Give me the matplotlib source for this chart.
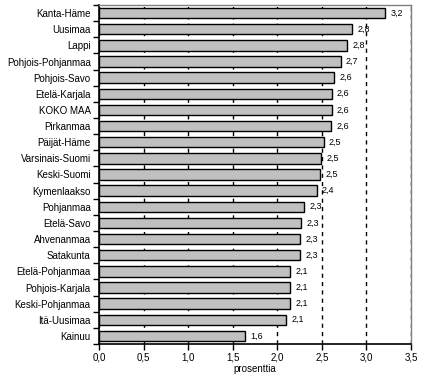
import matplotlib
matplotlib.use("Agg")
import matplotlib.pyplot as plt
import numpy as np

regions = ["Kanta-Häme", "Uusimaa", "Lappi", "Pohjois-Pohjanmaa", "Pohjois-Savo",
           "Etelä-Karjala", "KOKO MAA", "Pirkanmaa", "Päijät-Häme", "Varsinais-Suomi",
           "Keski-Suomi", "Kymenlaakso", "Pohjanmaa", "Etelä-Savo", "Ahvenanmaa",
           "Satakunta", "Etelä-Pohjanmaa", "Pohjois-Karjala", "Keski-Pohjanmaa",
           "Itä-Uusimaa", "Kainuu"]
values = [3.21, 2.84, 2.78, 2.71, 2.64, 2.61, 2.61, 2.60, 2.52, 2.49, 2.48,
          2.44, 2.30, 2.27, 2.26, 2.26, 2.14, 2.14, 2.14, 2.10, 1.64]
xticks = [0.0, 0.5, 1.0, 1.5, 2.0, 2.5, 3.0, 3.5]

plt.rcParams['font.family'] = ['Liberation Sans', 'DejaVu Sans']
plt.rcParams['font.size'] = 7

fig = plt.figure(figsize=(4.24, 3.84), dpi=100)
ax = fig.add_axes([99 / 424, 1 - 344 / 384, 312 / 424, 339 / 384])

y = np.arange(len(regions))
ax.barh(y, values, height=0.65, color="#c0c0c0", edgecolor="black",
        linewidth=1.0, zorder=3)
for yi, v in zip(y, values):
    ax.text(v + 0.06, yi, f"{v:.1f}".replace(".", ","), va="center",
            ha="left", fontsize=6.5, zorder=4)

ax.set_xlim(0, 3.5)
ax.set_ylim(len(regions) - 0.5, -0.5)
ax.set_xticks(xticks)
ax.set_xticklabels([f"{t:.1f}".replace(".", ",") for t in xticks])
ax.set_yticks(y)
ax.set_yticklabels(regions)
ax.tick_params(axis="y", length=0, pad=6)
ax.set_yticks(np.arange(-0.5, len(regions)), minor=True)
ax.tick_params(axis="y", which="minor", length=4, width=1, direction="out")
ax.tick_params(axis="x", length=4, width=1, direction="out", pad=2)
ax.xaxis.grid(True, linestyle=(0, (3, 3)), color="black", linewidth=1, zorder=0)
ax.set_axisbelow(True)
ax.set_xlabel("prosenttia", labelpad=1)

for s in ("left", "bottom"):
    ax.spines[s].set_color("black")
    ax.spines[s].set_linewidth(1.2)
for s in ("top", "right"):
    ax.spines[s].set_color("#808080")
    ax.spines[s].set_linewidth(1.0)

fig.savefig("out.png", dpi=100)
